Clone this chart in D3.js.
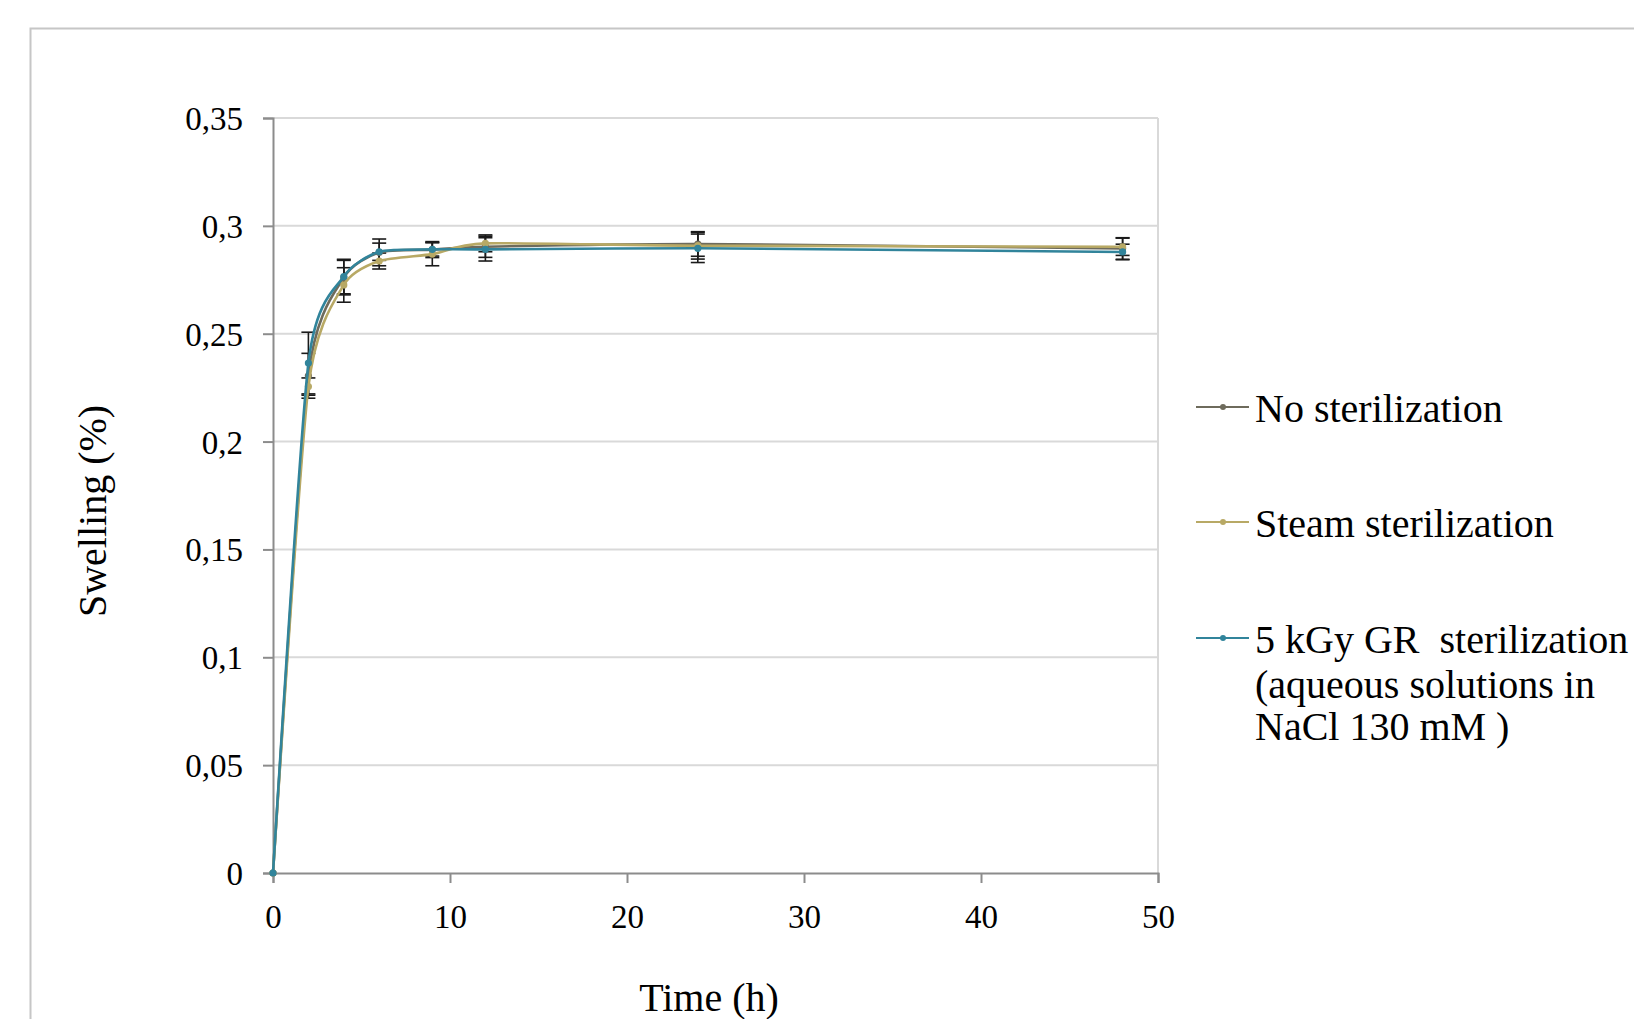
<!DOCTYPE html>
<html>
<head>
<meta charset="utf-8">
<script src="https://cdn.jsdelivr.net/npm/d3@7"></script>
<style>
  body { margin: 0; background: #fff; }
  svg text { font-family: "Liberation Serif", "Times New Roman", serif; fill: #000; white-space: pre; }
</style>
</head>
<body>
<div id="chart"></div>
<script>
// swelling over time, three sterilization conditions
var times = [0, 2, 4, 6, 9, 12, 24, 48];
var seriesNames = ["No sterilization", "Steam sterilization", "5 kGy GR  sterilization"];
var noSter = [0, 0.2305, 0.2760, 0.2877, 0.2890, 0.2903, 0.2916, 0.2895];
var steam = [0, 0.2255, 0.2726, 0.2837, 0.2869, 0.2919, 0.2908, 0.2903];
var gamma = [0, 0.2364, 0.2765, 0.2880, 0.2891, 0.2891, 0.2896, 0.2879];
var noSterErr = [0, 0.0104, 0.0080, 0.0062, 0.0037, 0.0049, 0.0057, 0.0050];
var steamErr = [0, 0.0040, 0.0080, 0.0037, 0.0054, 0.0039, 0.0062, 0.0040];
var gammaErr = [0, 0.0143, 0.0080, 0.0040, 0.0031, 0.0054, 0.0066, 0.0036];
var yTicks = [0, 0.05, 0.1, 0.15, 0.2, 0.25, 0.3, 0.35];
var xTicks = [0, 10, 20, 30, 40, 50];

var colors = ["#6e6b5c", "#b8a965", "#31849b"];

var width = 1634, height = 1019;
var svg = d3.select("#chart").append("svg")
  .attr("width", width)
  .attr("height", height);

// chart area frame (runs past the right and bottom edges)
svg.append("rect")
  .attr("x", 30.5).attr("y", 28.5)
  .attr("width", 1700).attr("height", 1100)
  .attr("fill", "none")
  .attr("stroke", "#c6c6c6")
  .attr("stroke-width", 2);

var plot = {left: 273, right: 1158, top: 118, bottom: 873};
var x = d3.scaleLinear().domain([0, 50]).range([plot.left, plot.right]);
var y = d3.scaleLinear().domain([0, 0.35]).range([plot.bottom, plot.top]);

var fmt = function(d) { return String(+d.toFixed(2)).replace(".", ","); };

// gridlines
svg.append("g")
  .selectAll("line")
  .data(yTicks.slice(1))
  .enter().append("line")
  .attr("x1", plot.left).attr("x2", plot.right)
  .attr("y1", d => y(d)).attr("y2", d => y(d))
  .attr("stroke", "#d9d9d9")
  .attr("stroke-width", 2);

// right side of plot area
svg.append("line")
  .attr("x1", plot.right).attr("x2", plot.right)
  .attr("y1", plot.top).attr("y2", plot.bottom)
  .attr("stroke", "#d9d9d9")
  .attr("stroke-width", 2);

// axes
var yAxis = svg.append("g")
  .attr("transform", "translate(" + plot.left + ",0)")
  .call(d3.axisLeft(y).tickValues(yTicks).tickSize(10).tickPadding(20).tickFormat(fmt));
var xAxis = svg.append("g")
  .attr("transform", "translate(0," + plot.bottom + ")")
  .call(d3.axisBottom(x).tickValues(xTicks).tickSize(10).tickPadding(22).tickFormat(fmt));

[yAxis, xAxis].forEach(function(a) {
  a.select(".domain").attr("stroke", "#8c8c8c").attr("stroke-width", 2);
  a.selectAll(".tick line").attr("stroke", "#8c8c8c").attr("stroke-width", 2);
  a.selectAll(".tick text").style("font-size", "33px").attr("fill", "#000");
});
yAxis.selectAll(".tick text").attr("dy", "0.35em");
xAxis.selectAll(".tick text").attr("dy", "0.71em");

// axis titles
svg.append("text")
  .attr("transform", "translate(106,511) rotate(-90)")
  .attr("text-anchor", "middle")
  .style("font-size", "40px")
  .text("Swelling (%)");

svg.append("text")
  .attr("x", 709).attr("y", 1011)
  .attr("text-anchor", "middle")
  .style("font-size", "40px")
  .text("Time (h)");

// series
var series = [
  {name: seriesNames[0], values: noSter, errs: noSterErr, color: colors[0]},
  {name: seriesNames[1], values: steam, errs: steamErr, color: colors[1]},
  {name: seriesNames[2], values: gamma, errs: gammaErr, color: colors[2]}
];
series.forEach(function(s) {
  s.points = times.map(function(t, i) { return {t: t, v: s.values[i], e: s.errs[i]}; });
});

// smoothed like the spreadsheet's "smoothed line" option
var line = d3.line()
  .curve(d3.curveCardinal.tension(0.35))
  .x(d => x(d.t))
  .y(d => y(d.v));

// error bars
var eb = svg.append("g").attr("id", "errorbars");
series.forEach(function(s) {
  var g = eb.selectAll(null)
    .data(s.points.filter(d => d.e > 0))
    .enter().append("g");
  g.append("line")
    .attr("x1", d => x(d.t)).attr("x2", d => x(d.t))
    .attr("y1", d => y(d.v + d.e)).attr("y2", d => y(d.v - d.e))
    .attr("stroke", "#1a1a1a").attr("stroke-width", 1.6);
  [1, -1].forEach(function(sign) {
    g.append("line")
      .attr("x1", d => x(d.t) - 7).attr("x2", d => x(d.t) + 7)
      .attr("y1", d => y(d.v + sign * d.e)).attr("y2", d => y(d.v + sign * d.e))
      .attr("stroke", "#1a1a1a").attr("stroke-width", 1.6);
  });
});

var lines = svg.append("g").attr("id", "lines");
series.forEach(function(s) {
  lines.append("path")
    .datum(s.points)
    .attr("d", line)
    .attr("fill", "none")
    .attr("stroke", s.color)
    .attr("stroke-width", 2.6);
  lines.selectAll(null)
    .data(s.points)
    .enter().append("circle")
    .attr("cx", d => x(d.t))
    .attr("cy", d => y(d.v))
    .attr("r", 3.6)
    .attr("fill", s.color);
});

// legend
var legendY = [407, 522, 638];
var legend = svg.append("g").attr("id", "legend");
series.forEach(function(s, i) {
  var g = legend.append("g").attr("transform", "translate(0," + legendY[i] + ")");
  g.append("line")
    .attr("x1", 1196).attr("x2", 1249)
    .attr("stroke", s.color).attr("stroke-width", 2.2);
  g.append("circle")
    .attr("cx", 1223).attr("r", 3)
    .attr("fill", s.color);
  g.append("text")
    .attr("x", 1255).attr("y", 15)
    .style("font-size", "40px")
    .text(s.name);
});
legend.append("text")
  .attr("x", 1255).attr("y", 698)
  .style("font-size", "40px")
  .text("(aqueous solutions in");
legend.append("text")
  .attr("x", 1255).attr("y", 740)
  .style("font-size", "40px")
  .text("NaCl 130 mM )");
</script>
</body>
</html>
